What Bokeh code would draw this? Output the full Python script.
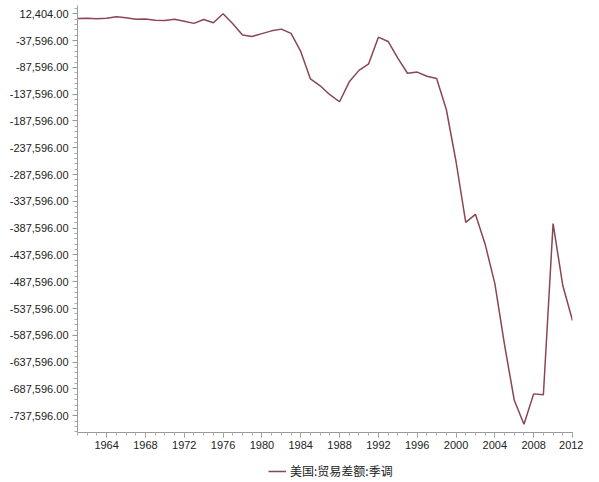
from bokeh.plotting import figure
from bokeh.layouts import column
from bokeh.models import (ColumnDataSource, Range1d, FixedTicker, NumeralTickFormatter,
                          Legend, LegendItem)
from bokeh.embed import file_html
from bokeh.resources import INLINE

# Annual values plotted at period end (year-end -> next year position)
period_end = [1961, 1962, 1963, 1964, 1965, 1966, 1967, 1968, 1969, 1970,
              1971, 1972, 1973, 1974, 1975, 1976, 1977, 1978, 1979, 1980,
              1981, 1982, 1983, 1984, 1985, 1986, 1987, 1988, 1989, 1990,
              1991, 1992, 1993, 1994, 1995, 1996, 1997, 1998, 1999, 2000,
              2001, 2002, 2003, 2004, 2005, 2006, 2007, 2008, 2009, 2010,
              2011, 2012]
trade_balance = [3508, 4195, 3370, 4210, 6831, 4951, 2321, 2517, 250, 91,
                 2254, -1302, -5443, 1900, -4293, 12404, -6082, -27246, -29763, -24565,
                 -19407, -16172, -24156, -57767, -109072, -121880, -138538, -151684, -114566, -93141,
                 -80864, -31135, -39212, -70311, -98493, -96384, -104065, -108273, -166140, -263160,
                 -376749, -361771, -417432, -490984, -605357, -708624, -753283, -696728, -698338, -379154,
                 -494658, -559880]
y_ticks = [12404, -37596, -87596, -137596, -187596, -237596, -287596, -337596,
           -387596, -437596, -487596, -537596, -587596, -637596, -687596, -737596]
x_ticks = [1964, 1968, 1972, 1976, 1980, 1984, 1988, 1992, 1996, 2000, 2004, 2008, 2012]
series_name = "美国:贸易差额:季调"
line_color = "#8a4652"

src = ColumnDataSource(dict(x=period_end, y=trade_balance))

p = figure(width=583, height=455, output_backend="svg", toolbar_location=None,
           x_range=Range1d(1961, 2012), y_range=Range1d(-768800, 27900),
           min_border_left=77, min_border_right=11, min_border_top=5,
           min_border_bottom=23)
p.outline_line_color = None
p.xgrid.visible = False
p.ygrid.visible = False
p.background_fill_color = "white"
p.border_fill_color = "white"

p.line("x", "y", source=src, line_color=line_color, line_width=1.5)

y_minor = [t - 10000 * k for t in y_ticks for k in range(1, 5)]
y_minor += [y_ticks[0] + 10000 * k for k in range(1, 2)]
p.yaxis.ticker = FixedTicker(ticks=y_ticks, minor_ticks=y_minor)
p.yaxis.formatter = NumeralTickFormatter(format="0,0.00")
p.xaxis.ticker = FixedTicker(ticks=x_ticks, minor_ticks=list(range(1961, 2013)))

for ax in (p.xaxis[0], p.yaxis[0]):
    ax.axis_line_color = "#999999"
    ax.major_tick_line_color = "#999999"
    ax.minor_tick_line_color = "#aaaaaa"
    ax.major_tick_out = 5
    ax.major_tick_in = 0
    ax.minor_tick_out = 3
    ax.minor_tick_in = 0
    ax.major_label_text_font = "Liberation Sans"
    ax.major_label_text_font_size = "11px"
    ax.major_label_text_color = "#222222"
p.xaxis.major_label_standoff = 3
p.yaxis.major_label_standoff = 4

# Legend strip below the chart (its key renderer lies outside the strip's ranges)
lg = figure(width=583, height=27, output_backend="svg", toolbar_location=None,
            x_range=Range1d(0, 1), y_range=Range1d(0, 1),
            x_axis_type=None, y_axis_type=None,
            min_border_left=0, min_border_right=0, min_border_top=0, min_border_bottom=0)
lg.outline_line_color = None
lg.xgrid.visible = False
lg.ygrid.visible = False
key = lg.line("x", "y", source=src, line_color=line_color, line_width=1.5)
legend = Legend(items=[LegendItem(label=series_name, renderers=[key])],
                location=(191, 3), orientation="horizontal",
                label_text_font="Noto Sans CJK SC", label_text_font_size="12px",
                label_text_color="#222222", glyph_width=18, glyph_height=14,
                label_height=14, label_standoff=4,
                border_line_color=None, background_fill_alpha=0,
                margin=0, padding=0)
lg.add_layout(legend, "center")

layout = column(p, lg, spacing=0)
open("out.html", "w").write(file_html(layout, INLINE))
